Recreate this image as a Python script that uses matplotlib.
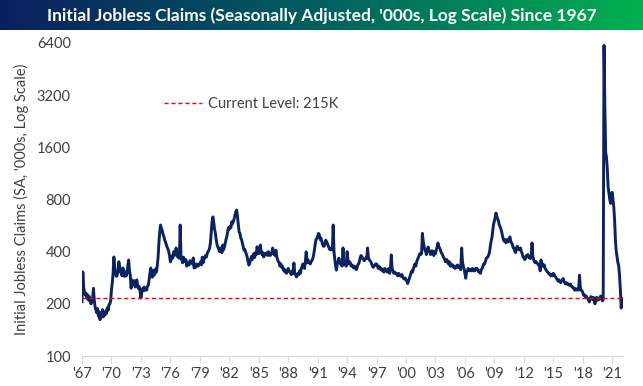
import numpy as np
import matplotlib.pyplot as plt
from matplotlib.colors import LinearSegmentedColormap

# monthly initial jobless claims ('000s, SA), one row per year
CLAIMS_60S = [
    206, 306, 250, 235, 225, 230, 215, 225, 210, 220, 208, 200,  # 1967
    205, 215, 246, 210, 192, 185, 178, 188, 170, 180, 162, 176,  # 1968
    170, 185, 168, 178, 172, 182, 176, 190, 184, 198, 200, 208,  # 1969
]
CLAIMS_70S = [
    240, 264, 300, 373, 320, 300, 288, 292, 312, 350, 330, 305,  # 1970
    300, 290, 322, 300, 288, 306, 290, 300, 330, 358, 312, 292,  # 1971
    246, 275, 262, 258, 272, 250, 262, 275, 255, 245, 252, 236,  # 1972
    216, 232, 245, 238, 250, 240, 246, 240, 252, 256, 275, 300,  # 1973
    322, 300, 285, 312, 292, 300, 318, 305, 332, 372, 450, 520,  # 1974
    570, 545, 530, 505, 490, 468, 455, 440, 425, 415, 400, 380,  # 1975
    350, 362, 378, 368, 400, 390, 382, 420, 392, 372, 385, 366,  # 1976
    570, 370, 358, 345, 372, 362, 350, 360, 330, 345, 340, 335,  # 1977
    355, 352, 345, 340, 368, 322, 330, 325, 340, 335, 330, 338,  # 1978
    340, 350, 336, 372, 345, 360, 370, 380, 372, 390, 400, 408,  # 1979
]
CLAIMS_80S = [
    420, 450, 520, 600, 635, 590, 540, 512, 470, 440, 425, 415,  # 1980
    400, 420, 410, 395, 437, 410, 425, 445, 470, 490, 520, 550,  # 1981
    540, 560, 550, 595, 580, 600, 620, 650, 680, 695, 640, 580,  # 1982
    520, 512, 480, 470, 449, 430, 408, 412, 399, 385, 370, 350,  # 1983
    335, 344, 360, 375, 360, 380, 390, 370, 395, 385, 427, 400,  # 1984
    390, 410, 437, 400, 385, 395, 373, 380, 390, 385, 395, 380,  # 1985
    400, 390, 380, 385, 390, 420, 395, 385, 380, 408, 375, 360,  # 1986
    350, 345, 330, 340, 325, 330, 313, 318, 305, 310, 300, 310,  # 1987
    320, 310, 306, 300, 295, 310, 300, 344, 300, 295, 286, 290,  # 1988
    300, 295, 310, 300, 320, 330, 340, 325, 320, 350, 399, 345,  # 1989
]
CLAIMS_90S = [
    360, 350, 345, 340, 350, 355, 365, 380, 410, 440, 470, 478,  # 1990
    490, 510, 500, 470, 480, 460, 440, 430, 430, 450, 466, 455,  # 1991
    445, 430, 420, 410, 415, 420, 410, 570, 400, 360, 330, 313,  # 1992
    340, 350, 367, 345, 340, 335, 330, 420, 340, 345, 335, 330,  # 1993
    400, 360, 340, 350, 345, 330, 335, 330, 322, 330, 325, 315,  # 1994
    320, 335, 340, 350, 370, 380, 375, 365, 360, 355, 360, 370,  # 1995
    365, 420, 370, 360, 355, 350, 340, 330, 325, 330, 335, 340,  # 1996
    340, 330, 320, 330, 325, 315, 320, 310, 315, 305, 320, 315,  # 1997
    310, 305, 315, 320, 300, 320, 383, 320, 310, 300, 305, 300,  # 1998
    300, 295, 290, 300, 295, 290, 288, 295, 285, 280, 278, 282,  # 1999
]
CLAIMS_00S = [
    275, 270, 262, 270, 280, 290, 300, 310, 305, 320, 330, 340,  # 2000
    330, 350, 360, 370, 380, 390, 385, 390, 510, 460, 430, 410,  # 2001
    400, 385, 410, 425, 410, 400, 385, 395, 405, 395, 380, 400,  # 2002
    390, 410, 425, 449, 430, 420, 410, 395, 390, 380, 370, 365,  # 2003
    350, 355, 360, 345, 340, 350, 330, 340, 330, 335, 325, 330,  # 2004
    320, 330, 325, 335, 325, 330, 320, 315, 420, 350, 330, 320,  # 2005
    300, 281, 305, 310, 320, 315, 310, 315, 310, 320, 310, 315,  # 2006
    310, 320, 315, 320, 310, 305, 310, 300, 315, 320, 330, 340,  # 2007
    340, 350, 365, 370, 372, 383, 395, 430, 460, 480, 530, 575,  # 2008
    600, 635, 668, 640, 620, 600, 570, 557, 540, 520, 490, 470,  # 2009
]
CLAIMS_10S = [
    460, 470, 450, 460, 470, 455, 470, 487, 460, 450, 440, 420,  # 2010
    420, 400, 395, 420, 430, 420, 410, 415, 420, 400, 390, 373,  # 2011
    370, 360, 365, 380, 375, 385, 370, 375, 365, 370, 449, 375,  # 2012
    360, 350, 345, 350, 345, 340, 335, 330, 310, 358, 330, 340,  # 2013
    330, 335, 320, 315, 310, 306, 300, 300, 295, 290, 295, 290,  # 2014
    300, 295, 290, 285, 280, 275, 270, 275, 270, 265, 270, 275,  # 2015
    280, 270, 265, 260, 265, 262, 258, 260, 255, 260, 255, 250,  # 2016
    250, 245, 240, 245, 240, 242, 245, 240, 293, 250, 240, 238,  # 2017
    232, 225, 225, 220, 222, 218, 215, 210, 205, 212, 220, 215,  # 2018
    212, 218, 208, 200, 212, 218, 210, 215, 212, 218, 222, 215,  # 2019
]
CLAIMS_20S = [
    208, 212, 6200, 2800, 1500, 1400, 1200, 950, 870, 800, 760, 860,  # 2020
    880, 800, 720, 600, 460, 400, 370, 345, 330, 290, 240, 189,  # 2021
    215,  # 2022
]

START_YEAR = 1967
CURRENT_LEVEL = 215
Y_TICKS = [100, 200, 400, 800, 1600, 3200, 6400]
X_TICK_YEARS = list(range(1967, 2022, 3))

TITLE = "Initial Jobless Claims (Seasonally Adjusted, '000s, Log Scale) Since 1967"
Y_LABEL = "Initial Jobless Claims (SA, '000s, Log Scale)"

NAVY = '#0b2260'
TEXT_GREY = '#404040'


def build_series():
    claims = CLAIMS_60S + CLAIMS_70S + CLAIMS_80S + CLAIMS_90S + CLAIMS_00S + CLAIMS_10S + CLAIMS_20S
    dates = [START_YEAR + i / 12 for i in range(len(claims))]
    return np.array(dates), np.array(claims)


def draw_banner(fig):
    # gradient title strip across the top
    ban = fig.add_axes([0, 1 - 30 / 386, 1, 30 / 386])
    cmap = LinearSegmentedColormap.from_list('banner', ['#0c1f5e', '#006060', '#00b050'])
    ban.imshow(np.linspace(0, 1, 256).reshape(1, -1), aspect='auto', cmap=cmap, extent=[0, 1, 0, 1])
    ban.set_axis_off()
    ban.text(0.5, 0.48, TITLE, color='white', fontsize=12.5, fontweight='bold',
             family='Lato', ha='center', va='center')


def create_plot():
    dates, claims = build_series()

    fig = plt.figure(figsize=(6.43, 3.86), dpi=100)
    ax = fig.add_axes([82 / 643, 1 - 356 / 386, 541 / 643, 313 / 386])

    ax.plot(dates, claims, color=NAVY, linewidth=2.1, solid_joinstyle='round')
    ax.axhline(CURRENT_LEVEL, color='#ff0000', linewidth=1.0, linestyle=(0, (3, 2)),
               label=f'Current Level: {CURRENT_LEVEL}K')

    ax.set_yscale('log')
    ax.set_ylim(100, 6400)
    ax.set_yticks(Y_TICKS)
    ax.set_yticklabels([str(t) for t in Y_TICKS])
    ax.minorticks_off()
    ax.set_xlim(START_YEAR, 2022.1)
    ax.set_xticks(X_TICK_YEARS)
    ax.set_xticklabels(["'" + str(y)[2:] for y in X_TICK_YEARS])

    for side in ['top', 'right', 'left']:
        ax.spines[side].set_visible(False)
    ax.spines['bottom'].set_color('#d9d9d9')
    ax.tick_params(axis='y', length=0, pad=8, labelsize=10.5, labelcolor=TEXT_GREY)
    ax.tick_params(axis='x', length=5, color='#d9d9d9', pad=3, labelsize=10.5, labelcolor=TEXT_GREY)
    for lab in ax.get_xticklabels() + ax.get_yticklabels():
        lab.set_family('Lato')

    ax.set_ylabel(Y_LABEL, fontsize=10.5, color=TEXT_GREY, family='Lato', labelpad=6)

    ax.legend(loc='center left', bbox_to_anchor=(0.127, 0.805), frameon=False,
              handlelength=2.6, handletextpad=0.4, prop={'family': 'Lato', 'size': 10.5},
              labelcolor=TEXT_GREY)

    draw_banner(fig)
    fig.savefig('out.png', dpi=100)


create_plot()
